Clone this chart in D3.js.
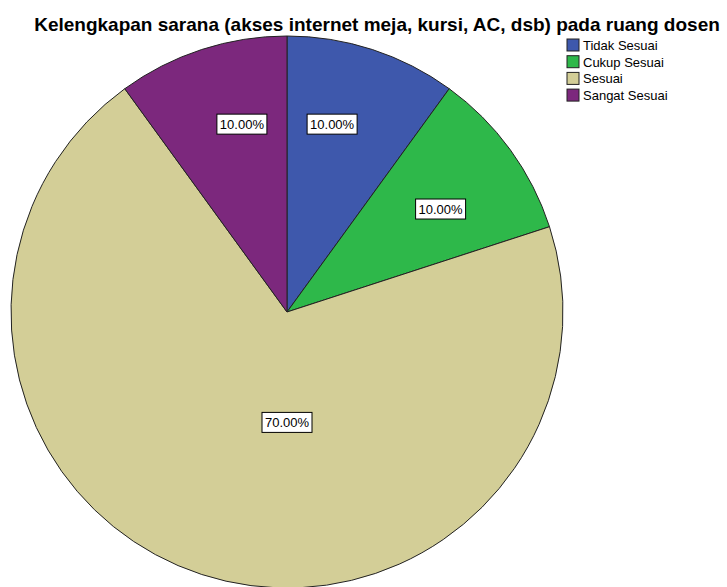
<!DOCTYPE html>
<html>
<head>
<meta charset="utf-8">
<script src="https://cdn.jsdelivr.net/npm/d3@7"></script>
<style>
  body { margin: 0; background: #fff; }
  text { font-family: "Liberation Sans", Arial, sans-serif; }
</style>
</head>
<body>
<div id="chart"></div>
<script>
var categories = ["Tidak Sesuai", "Cukup Sesuai", "Sesuai", "Sangat Sesuai"];
var percents = [10, 10, 70, 10];
var colors = ["#3e58ac", "#2eb84a", "#d3ce97", "#7c287d"];
var titleText = "Kelengkapan sarana (akses internet meja, kursi, AC, dsb) pada ruang dosen";

var width = 727, height = 587;
var cx = 287, cy = 312, radius = 276;

var svg = d3.select("#chart")
  .append("svg")
    .attr("width", width)
    .attr("height", height);

svg.append("text")
    .attr("x", 377)
    .attr("y", 31)
    .attr("text-anchor", "middle")
    .style("font-size", "19px")
    .style("font-weight", "bold")
    .text(titleText);

var data = categories.map(function(c, i) { return {name: c, value: percents[i], color: colors[i]}; });

var pie = d3.pie()
    .sort(null)
    .value(function(d) { return d.value; });

var arc = d3.arc()
    .innerRadius(0)
    .outerRadius(radius);

var g = svg.append("g")
    .attr("transform", "translate(" + cx + "," + cy + ")");

var arcs = pie(data);

g.selectAll("path")
  .data(arcs)
  .enter()
  .append("path")
    .attr("d", arc)
    .style("fill", function(d) { return d.data.color; })
    .style("stroke", "#222")
    .style("stroke-width", 1);

// labels: small slices further out, big slice nearer the middle
var labels = g.selectAll(".lab")
  .data(arcs)
  .enter()
  .append("g")
    .attr("class", "lab")
    .attr("transform", function(d) {
      var share = (d.endAngle - d.startAngle) / (2 * Math.PI);
      var r = share > 0.5 ? radius * 0.4 : radius * 0.7;
      var a = (d.startAngle + d.endAngle) / 2;
      if (a > Math.PI) a -= 2 * Math.PI;
      if (share > 0.5) a = Math.PI;
      else if (Math.abs(a) < 0.5) a = a * 0.75;
      else { a = a * 1.04; r = radius * 0.67; }
      return "translate(" + (Math.sin(a) * r) + "," + (-Math.cos(a) * r) + ")";
    });

labels.append("rect")
    .attr("x", -25)
    .attr("y", -10)
    .attr("width", 50)
    .attr("height", 20)
    .style("fill", "#fff")
    .style("stroke", "#000")
    .style("stroke-width", 1);

labels.append("text")
    .attr("text-anchor", "middle")
    .attr("dy", "0.36em")
    .style("font-size", "13px")
    .text(function(d) { return d.data.value.toFixed(2) + "%"; });

var legend = svg.append("g")
    .attr("transform", "translate(567,39)");

var item = legend.selectAll("g")
  .data(data)
  .enter()
  .append("g")
    .attr("transform", function(d, i) { return "translate(0," + (i * 16.7) + ")"; });

item.append("rect")
    .attr("width", 12)
    .attr("height", 12)
    .style("fill", function(d) { return d.color; })
    .style("stroke", "#222");

item.append("text")
    .attr("x", 16)
    .attr("y", 11)
    .style("font-size", "13px")
    .text(function(d) { return d.name; });
</script>
</body>
</html>
